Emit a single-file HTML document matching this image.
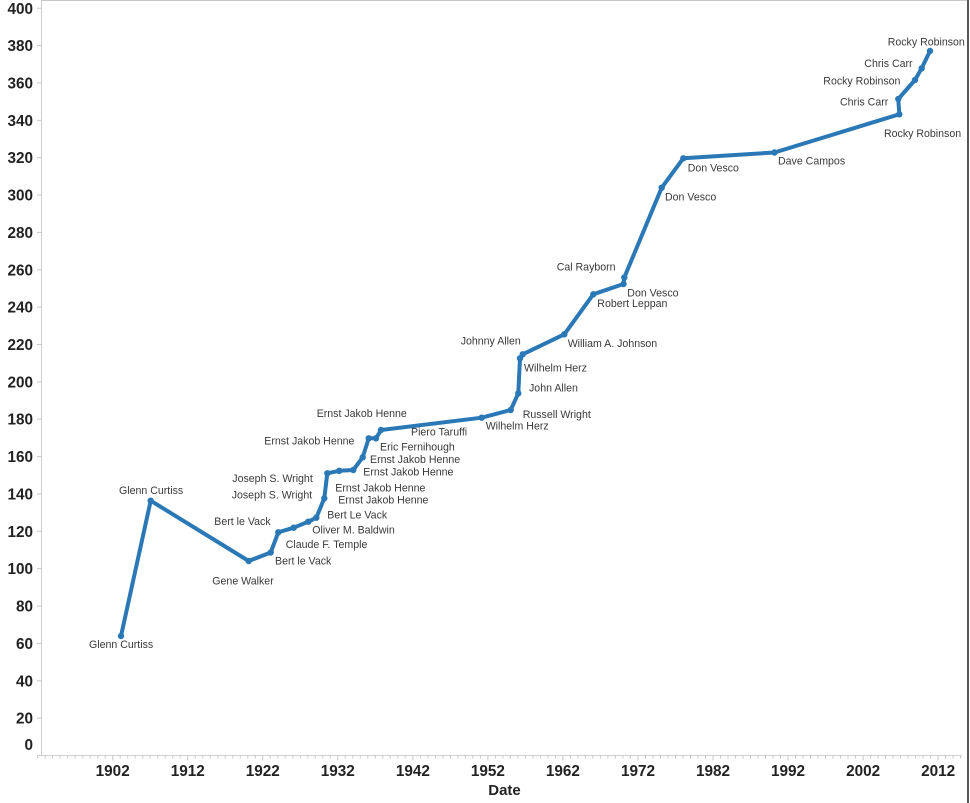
<!DOCTYPE html>
<html><head><meta charset="utf-8"><style>
html,body{margin:0;padding:0;background:#fff;}
svg{display:block;}
.l{font-family:"Liberation Sans",Arial,sans-serif;font-size:10.6px;fill:#3a3a3a;dominant-baseline:central;}
.t{font-family:"Liberation Sans",Arial,sans-serif;font-size:15.3px;font-weight:bold;fill:#222;dominant-baseline:central;}
</style></head><body>
<svg width="970" height="803" viewBox="0 0 970 803" xmlns="http://www.w3.org/2000/svg">
<rect x="0" y="0" width="970" height="803" fill="#fff"/>
<line x1="41.5" y1="0.5" x2="968" y2="0.5" stroke="#c8c8c8" stroke-width="1"/>
<line x1="968" y1="0" x2="968" y2="803" stroke="#555" stroke-width="2"/>
<line x1="41.5" y1="0" x2="41.5" y2="756" stroke="#cfcfcf" stroke-width="1"/>
<line x1="37" y1="755.5" x2="962" y2="755.5" stroke="#cfcfcf" stroke-width="1"/>
<g stroke="#c8c8c8" stroke-width="1" id="yt">
<line x1="37" x2="41.5" y1="8.2" y2="8.2"/><line x1="37" x2="41.5" y1="45.6" y2="45.6"/><line x1="37" x2="41.5" y1="82.9" y2="82.9"/><line x1="37" x2="41.5" y1="120.3" y2="120.3"/><line x1="37" x2="41.5" y1="157.7" y2="157.7"/><line x1="37" x2="41.5" y1="195.0" y2="195.0"/><line x1="37" x2="41.5" y1="232.4" y2="232.4"/><line x1="37" x2="41.5" y1="269.8" y2="269.8"/><line x1="37" x2="41.5" y1="307.1" y2="307.1"/><line x1="37" x2="41.5" y1="344.5" y2="344.5"/><line x1="37" x2="41.5" y1="381.9" y2="381.9"/><line x1="37" x2="41.5" y1="419.2" y2="419.2"/><line x1="37" x2="41.5" y1="456.6" y2="456.6"/><line x1="37" x2="41.5" y1="494.0" y2="494.0"/><line x1="37" x2="41.5" y1="531.3" y2="531.3"/><line x1="37" x2="41.5" y1="568.7" y2="568.7"/><line x1="37" x2="41.5" y1="606.1" y2="606.1"/><line x1="37" x2="41.5" y1="643.4" y2="643.4"/><line x1="37" x2="41.5" y1="680.8" y2="680.8"/><line x1="37" x2="41.5" y1="718.2" y2="718.2"/>
</g>
<g text-anchor="end">
<text class="t" x="33" y="9.5">400</text><text class="t" x="33" y="46.6">380</text><text class="t" x="33" y="83.9">360</text><text class="t" x="33" y="121.3">340</text><text class="t" x="33" y="158.7">320</text><text class="t" x="33" y="196">300</text><text class="t" x="33" y="233.4">280</text><text class="t" x="33" y="270.8">260</text><text class="t" x="33" y="308.1">240</text><text class="t" x="33" y="345.5">220</text><text class="t" x="33" y="382.9">200</text><text class="t" x="33" y="420.2">180</text><text class="t" x="33" y="457.6">160</text><text class="t" x="33" y="495">140</text><text class="t" x="33" y="532.3">120</text><text class="t" x="33" y="569.7">100</text><text class="t" x="33" y="607.1">80</text><text class="t" x="33" y="644.4">60</text><text class="t" x="33" y="681.8">40</text><text class="t" x="33" y="719.2">20</text><text class="t" x="33" y="745.7">0</text>
</g>
<g stroke="#c8c8c8" stroke-width="1">
<path d="M37.6 756v2.5M45.1 756v2.5M52.6 756v2.5M60.1 756v2.5M67.7 756v2.5M75.2 756v2.5M82.7 756v2.5M90.2 756v2.5M97.7 756v2.5M105.2 756v2.5M112.7 756v4.5M120.2 756v2.5M127.7 756v2.5M135.2 756v2.5M142.7 756v2.5M150.2 756v2.5M157.7 756v2.5M165.2 756v2.5M172.7 756v2.5M180.2 756v2.5M187.8 756v4.5M195.3 756v2.5M202.8 756v2.5M210.3 756v2.5M217.8 756v2.5M225.3 756v2.5M232.8 756v2.5M240.3 756v2.5M247.8 756v2.5M255.3 756v2.5M262.8 756v4.5M270.3 756v2.5M277.8 756v2.5M285.3 756v2.5M292.8 756v2.5M300.3 756v2.5M307.8 756v2.5M315.3 756v2.5M322.8 756v2.5M330.3 756v2.5M337.8 756v4.5M345.3 756v2.5M352.8 756v2.5M360.3 756v2.5M367.8 756v2.5M375.3 756v2.5M382.8 756v2.5M390.3 756v2.5M397.8 756v2.5M405.3 756v2.5M412.9 756v4.5M420.4 756v2.5M427.9 756v2.5M435.4 756v2.5M442.9 756v2.5M450.4 756v2.5M457.9 756v2.5M465.4 756v2.5M472.9 756v2.5M480.4 756v2.5M487.9 756v4.5M495.4 756v2.5M502.9 756v2.5M510.4 756v2.5M517.9 756v2.5M525.4 756v2.5M532.9 756v2.5M540.4 756v2.5M547.9 756v2.5M555.4 756v2.5M562.9 756v4.5M570.4 756v2.5M577.9 756v2.5M585.4 756v2.5M592.9 756v2.5M600.4 756v2.5M607.9 756v2.5M615.4 756v2.5M622.9 756v2.5M630.4 756v2.5M638.0 756v4.5M645.5 756v2.5M653.0 756v2.5M660.5 756v2.5M668.0 756v2.5M675.5 756v2.5M683.0 756v2.5M690.5 756v2.5M698.0 756v2.5M705.5 756v2.5M713.0 756v4.5M720.5 756v2.5M728.0 756v2.5M735.5 756v2.5M743.0 756v2.5M750.5 756v2.5M758.0 756v2.5M765.5 756v2.5M773.0 756v2.5M780.5 756v2.5M788.0 756v4.5M795.5 756v2.5M803.0 756v2.5M810.5 756v2.5M818.0 756v2.5M825.5 756v2.5M833.0 756v2.5M840.5 756v2.5M848.0 756v2.5M855.5 756v2.5M863.1 756v4.5M870.6 756v2.5M878.1 756v2.5M885.6 756v2.5M893.1 756v2.5M900.6 756v2.5M908.1 756v2.5M915.6 756v2.5M923.1 756v2.5M930.6 756v2.5M938.1 756v4.5M945.6 756v2.5M953.1 756v2.5M960.6 756v2.5"/>
</g>
<g text-anchor="middle">
<text class="t" x="112.7" y="771.7">1902</text><text class="t" x="187.8" y="771.7">1912</text><text class="t" x="262.8" y="771.7">1922</text><text class="t" x="337.8" y="771.7">1932</text><text class="t" x="412.9" y="771.7">1942</text><text class="t" x="487.9" y="771.7">1952</text><text class="t" x="562.9" y="771.7">1962</text><text class="t" x="638" y="771.7">1972</text><text class="t" x="713" y="771.7">1982</text><text class="t" x="788" y="771.7">1992</text><text class="t" x="863.1" y="771.7">2002</text><text class="t" x="938.1" y="771.7">2012</text>
<text class="t" x="504.5" y="790.7" style="font-size:15px">Date</text>
</g>
<polyline fill="none" stroke="#2a78b6" stroke-width="4" stroke-linejoin="round" stroke-linecap="round" points="121,636 150.7,500.7 248.7,561 270.7,552.5 278.3,532.3 293.7,527.7 308.3,521.7 316.3,517.7 324.3,498.3 327.3,473.3 339.2,470.8 353.3,470 362.7,457.3 368.7,438.3 376,438.3 381,430 481.7,417.7 510.7,410 518.3,393.3 520,358.3 522.7,354.3 564.3,334.3 593.3,294.3 623.5,284 624.3,277.5 661.7,187.7 683.3,158.3 774.5,152.5 899.3,114.3 898.3,99 915,80 921.7,68.3 930,51"/>
<g fill="#2a78b6">
<circle cx="121" cy="636" r="3.2"/><circle cx="150.7" cy="500.7" r="3.2"/><circle cx="248.7" cy="561" r="3.2"/><circle cx="270.7" cy="552.5" r="3.2"/><circle cx="278.3" cy="532.3" r="3.2"/><circle cx="293.7" cy="527.7" r="3.2"/><circle cx="308.3" cy="521.7" r="3.2"/><circle cx="316.3" cy="517.7" r="3.2"/><circle cx="324.3" cy="498.3" r="3.2"/><circle cx="327.3" cy="473.3" r="3.2"/><circle cx="339.2" cy="470.8" r="3.2"/><circle cx="353.3" cy="470" r="3.2"/><circle cx="362.7" cy="457.3" r="3.2"/><circle cx="368.7" cy="438.3" r="3.2"/><circle cx="376" cy="438.3" r="3.2"/><circle cx="381" cy="430" r="3.2"/><circle cx="481.7" cy="417.7" r="3.2"/><circle cx="510.7" cy="410" r="3.2"/><circle cx="518.3" cy="393.3" r="3.2"/><circle cx="520" cy="358.3" r="3.2"/><circle cx="522.7" cy="354.3" r="3.2"/><circle cx="564.3" cy="334.3" r="3.2"/><circle cx="593.3" cy="294.3" r="3.2"/><circle cx="623.5" cy="284" r="3.2"/><circle cx="624.3" cy="277.5" r="3.2"/><circle cx="661.7" cy="187.7" r="3.2"/><circle cx="683.3" cy="158.3" r="3.2"/><circle cx="774.5" cy="152.5" r="3.2"/><circle cx="899.3" cy="114.3" r="3.2"/><circle cx="898.3" cy="99" r="3.2"/><circle cx="915" cy="80" r="3.2"/><circle cx="921.7" cy="68.3" r="3.2"/><circle cx="930" cy="51" r="3.2"/>
</g>
<g>
<text class="l" x="89" y="645">Glenn Curtiss</text>
<text class="l" x="119" y="491">Glenn Curtiss</text>
<text class="l" x="212.3" y="581.7">Gene Walker</text>
<text class="l" x="214.3" y="522">Bert le Vack</text>
<text class="l" x="275" y="561.7">Bert le Vack</text>
<text class="l" x="232.3" y="479">Joseph S. Wright</text>
<text class="l" x="231.7" y="495.7">Joseph S. Wright</text>
<text class="l" x="264.3" y="441.7">Ernst Jakob Henne</text>
<text class="l" x="316.7" y="414">Ernst Jakob Henne</text>
<text class="l" x="411" y="432.7">Piero Taruffi</text>
<text class="l" x="380" y="447.3">Eric Fernihough</text>
<text class="l" x="370" y="460">Ernst Jakob Henne</text>
<text class="l" x="363.3" y="472.3">Ernst Jakob Henne</text>
<text class="l" x="335.3" y="488.3">Ernst Jakob Henne</text>
<text class="l" x="338.3" y="500.7">Ernst Jakob Henne</text>
<text class="l" x="327.3" y="515.7">Bert Le Vack</text>
<text class="l" x="312.3" y="530.7">Oliver M. Baldwin</text>
<text class="l" x="285.7" y="545">Claude F. Temple</text>
<text class="l" x="556.7" y="267.3">Cal Rayborn</text>
<text class="l" x="627.3" y="293.3">Don Vesco</text>
<text class="l" x="597.3" y="304">Robert Leppan</text>
<text class="l" x="460.7" y="341.7">Johnny Allen</text>
<text class="l" x="567.7" y="344">William A. Johnson</text>
<text class="l" x="524" y="368.3">Wilhelm Herz</text>
<text class="l" x="529" y="388.3">John Allen</text>
<text class="l" x="522.7" y="415">Russell Wright</text>
<text class="l" x="485.7" y="426.7">Wilhelm Herz</text>
<text class="l" x="687.7" y="168.3">Don Vesco</text>
<text class="l" x="665" y="197.3">Don Vesco</text>
<text class="l" x="778" y="161.7">Dave Campos</text>
<text class="l" x="887.7" y="42.7">Rocky Robinson</text>
<text class="l" x="864.3" y="64">Chris Carr</text>
<text class="l" x="823.3" y="81.7">Rocky Robinson</text>
<text class="l" x="840" y="102.7">Chris Carr</text>
<text class="l" x="884" y="134">Rocky Robinson</text>
</g>
</svg>
</body></html>
